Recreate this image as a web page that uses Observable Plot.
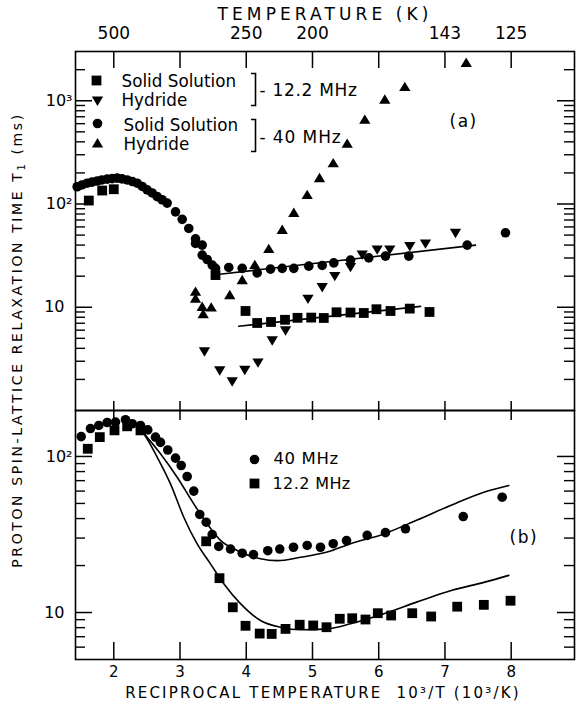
<!DOCTYPE html>
<html><head><meta charset="utf-8">
<script src="https://cdn.jsdelivr.net/npm/d3@7"></script>
<script src="https://cdn.jsdelivr.net/npm/@observablehq/plot@0.6"></script>
<style>
body{margin:0;background:#fff;}
#wrap{position:relative;width:576px;height:704px;font-family:"DejaVu Sans",sans-serif;color:#000;overflow:hidden;}
.abs{position:absolute;white-space:nowrap;}
#top,#bot{position:absolute;left:0;}
#top{top:0;} #bot{top:410px;}
</style></head><body><div id="wrap"><div id="top"></div><div id="bot"></div>
<div class="abs" id="ylab" style="left:18px;top:340px;transform:translate(-50%,-50%) rotate(-90deg);font-size:14px;letter-spacing:2.6px;">PROTON SPIN-LATTICE RELAXATION TIME T<sub style="font-size:10px">1</sub> (ms)</div>
</div>
<script>
// ---------- DATA (x = 10^3/T, value = T1 in ms) ----------
// panel (a)
const topSS40 = [[1.447,147],[1.52,153],[1.598,159],[1.67,163],[1.749,167],[1.82,171],[1.90,174],[1.975,176],[2.051,178],[2.125,175],[2.202,171],[2.28,165],[2.353,159],[2.43,148],[2.504,137],[2.58,128],[2.655,118],[2.73,110],[2.806,102],[2.932,84],[3.033,71],[3.132,58],[3.234,46],[3.234,41.5],[3.335,40],[3.335,32],[3.41,29],[3.486,25.6],[3.536,23.8],[3.736,24.3],[3.939,23.8],[4.165,21.5],[4.366,23.4],[4.543,23.8],[4.718,23.8],[4.944,25],[5.147,25.4],[5.322,26.9],[5.574,28.6],[5.85,30.1],[6.102,31.3],[6.454,31.3],[7.336,40],[7.914,52.6]];
const topSS12 = [[1.623,108],[1.825,135],[2.0,139],[3.536,20.5],[3.989,9.2],[4.165,7.04],[4.374,7.2],[4.585,7.56],[4.774,7.9],[4.981,7.94],[5.171,7.87],[5.363,8.94],[5.574,8.89],[5.775,8.8],[5.966,9.57],[6.178,9.2],[6.469,9.7],[6.767,9.0]];
const topHy12 = [[3.369,3.74],[3.600,2.45],[3.788,1.92],[3.978,2.48],[4.177,2.92],[4.392,4.78],[4.593,5.98],[4.932,12.1],[5.147,15.7],[5.337,20.1],[5.574,24.6],[5.751,32.5],[5.977,36.3],[6.167,36.3],[6.469,39.1],[6.706,41.5],[7.159,52.6]];
const topHy40 = [[3.234,14.1],[3.234,12.1],[3.335,10.07],[3.350,8.55],[3.471,9.93],[3.751,13.1],[3.939,18.3],[4.129,25.6],[4.340,36.6],[4.543,56],[4.718,81.8],[4.920,122],[5.106,178],[5.313,248],[5.524,383],[5.790,654],[6.092,1023],[6.394,1358],[7.321,2323]];
const topFit40 = [[3.60,20.9],[7.461,40.0]];
const topFit12 = [[3.887,6.54],[6.631,10.2]];
// panel (b)
const botSS40 = [[1.508,134],[1.648,151],[1.774,158],[1.90,165],[2.026,166],[2.177,172],[2.278,162],[2.403,158],[2.513,148],[2.630,133],[2.705,123],[2.815,110],[2.932,97.5],[3.018,87.5],[3.108,74.4],[3.208,60],[3.298,42.5],[3.395,37.9],[3.486,31.6],[3.585,26.5],[3.762,25.5],[3.939,24],[4.109,23.5],[4.325,24.9],[4.506,25.5],[4.713,26.2],[4.920,26.9],[5.121,26.2],[5.313,27.6],[5.514,28.9],[5.826,31.2],[6.102,32.5],[6.404,34.4],[7.276,41.2],[7.864,54.8]];
const botSS12 = [[1.607,112],[1.789,133],[2.011,147],[2.202,156],[2.403,147],[3.395,28.6],[3.596,16.6],[3.797,10.8],[3.989,8.22],[4.203,7.33],[4.384,7.29],[4.593,7.85],[4.807,8.35],[5.011,8.26],[5.212,8.05],[5.412,9.12],[5.600,9.19],[5.800,9.02],[5.986,9.90],[6.188,9.57],[6.506,9.90],[6.792,9.43],[7.185,10.9],[7.587,11.2],[7.99,11.9]];
const botCurve40 = [[2.15,176],[2.3,163],[2.453,140],[2.705,104],[2.957,73.6],[3.208,49.7],[3.410,37],[3.611,29],[3.863,25],[4.215,22.1],[4.467,21.5],[4.819,22.6],[5.222,24.4],[5.574,27.6],[6.077,31.9],[6.581,39.2],[7.084,48.5],[7.587,59],[7.964,65.2]];
const botCurve12 = [[2.15,176],[2.3,163],[2.453,140],[2.655,99],[2.856,66.8],[3.057,40.8],[3.259,27.5],[3.460,20.5],[3.661,15.3],[3.913,11.4],[4.215,8.89],[4.517,8.05],[4.819,7.75],[5.222,7.86],[5.574,8.47],[6.077,9.82],[6.581,11.7],[7.084,13.8],[7.587,15.6],[7.964,17.3]];
// axes
const xTickVals = [2,3,4,5,6,7,8];
const tempTickX = [2,4,5,7,8];
const tempTickLabels = ["500","250","200","143","125"];
const topYTicks = [10,100,1000];
const topYLabels = ["10\u2002","10²","10³"];
const botYTicks = [10,100];
const botYLabels = ["10\u2002","10²"];
const xDomain = [1.422, 8.956];
const topYDomain = [1, 3000];
const botYDomain = [5, 197];
const topTitle = "TEMPERATURE (K)";
const botTitle = "RECIPROCAL TEMPERATURE  10³/T (10³/K)";

// ---------- layout ----------
const W = 576, ML = 75, MR = 2, innerW = W - ML - MR;
const topH = 410, topMT = 51, topInnerH = topH - topMT;
const botH = 294, botMB = 45, botInnerH = botH - botMB;
const FONT = '"DejaVu Sans", sans-serif';
const spacing = new Map([[topTitle, 4.1], [botTitle, 2.2], ["- 12.2 MHz", 0.7], ["- 40 MHz", 0.9], ["40 MHz", 0.6], ["12.2 MHz", 0.4], ["(a)", 1.5], ["(b)", 1.5]]);

const minorOf = (dom) => [1,10,100,1000].flatMap(b => d3.range(2,10).map(k => k*b)).filter(v => v > dom[0] && v < dom[1]);

const S = (f) => ({draw(c, s){ const r = Math.sqrt(s/Math.PI); f(c, r); }});
const sym = {
  circle: S((c,r)=>{ c.moveTo(r,0); c.arc(0,0,r,0,2*Math.PI); }),
  square: S((c,r)=>{ c.rect(-r,-r,2*r,2*r); }),
  triUp: S((c,r)=>{ c.moveTo(0,-1.15*r); c.lineTo(1.2*r,0.85*r); c.lineTo(-1.2*r,0.85*r); c.closePath(); }),
  triDown: S((c,r)=>{ c.moveTo(0,1.15*r); c.lineTo(1.2*r,-0.85*r); c.lineTo(-1.2*r,-0.85*r); c.closePath(); }),
  bracket: S((c,r)=>{ c.moveTo(-0.28*r,-r); c.lineTo(0,-r); c.lineTo(0,r); c.lineTo(-0.28*r,r); })
};
const R = {circle: 4.8, square: 4.9, triUp: 4.7, triDown: 4.7};
const X = d => d[0], Y = d => d[1];

function pts(data, s){ return Plot.dot(data, {x: X, y: Y, symbol: sym[s], r: R[s], fill: "black"}); }
function frameTicks(innerH, yMajor, yMinor, topLen, botLen){
  return [
    Plot.frame({stroke: "black", strokeWidth: 1.6}),
    Plot.tickY(yMajor, {y: d=>d, insetRight: innerW-17, strokeWidth: 1.5}),
    Plot.tickY(yMajor, {y: d=>d, insetLeft: innerW-17, strokeWidth: 1.5}),
    Plot.tickY(yMinor, {y: d=>d, insetRight: innerW-10, strokeWidth: 1.4}),
    Plot.tickY(yMinor, {y: d=>d, insetLeft: innerW-10, strokeWidth: 1.4}),
    Plot.tickX(xTickVals, {x: d=>d, insetBottom: innerH-topLen, strokeWidth: 1.5}),
    Plot.tickX(xTickVals, {x: d=>d, insetTop: innerH-botLen, strokeWidth: 1.5})
  ];
}
function label(txt, anchor, dx, dy, opts={}){
  return Plot.text([txt], {frameAnchor: anchor, dx, dy, text: d=>d, textAnchor: "start", lineAnchor: "middle", fontSize: 16.8, ...opts});
}
function legendDot(s, dx, dy){ return Plot.dot([0], {frameAnchor: "top-left", dx, dy, symbol: sym[s], r: R[s], fill: "black"}); }
function applySpacing(svg){
  svg.querySelectorAll("text").forEach(t => { const s = spacing.get(t.textContent); if (s != null) t.setAttribute("letter-spacing", s); });
  return svg;
}

const topPlot = Plot.plot({
  width: W, height: topH, marginTop: topMT, marginBottom: 0, marginLeft: ML, marginRight: MR,
  x: {domain: xDomain},
  y: {type: "log", domain: topYDomain},
  style: {fontFamily: FONT, fontSize: "15px", background: "transparent", color: "black", overflow: "visible"},
  marks: [
    ...frameTicks(topInnerH, topYTicks, minorOf(topYDomain), 17, 9),
    Plot.axisX({anchor: "top", ticks: tempTickX, tickFormat: d => tempTickLabels[tempTickX.indexOf(d)], tickSize: 0, tickPadding: 13, label: null, fontSize: 17}),
    Plot.axisY({anchor: "left", ticks: topYTicks, tickFormat: d => topYLabels[topYTicks.indexOf(d)], tickSize: 0, tickPadding: 3, label: null, fontSize: 16}),
    Plot.text([topTitle], {frameAnchor: "top", dx: 0, dy: -37, text: d=>d, lineAnchor: "middle", fontSize: 17}),
    Plot.line(topFit40, {x: X, y: Y, strokeWidth: 1.6}),
    Plot.line(topFit12, {x: X, y: Y, strokeWidth: 1.6}),
    pts(topSS40, "circle"), pts(topSS12, "square"), pts(topHy12, "triDown"), pts(topHy40, "triUp"),
    // legend
    legendDot("square", 21, 29), legendDot("triDown", 22, 49), legendDot("circle", 22, 72), legendDot("triUp", 22, 92),
    label("Solid Solution", "top-left", 46, 30), label("Hydride", "top-left", 46, 49),
    label("Solid Solution", "top-left", 48, 74), label("Hydride", "top-left", 48, 93),
    Plot.dot([0], {frameAnchor: "top-left", dx: 180, dy: 38, symbol: sym.bracket, r: 16, fill: "none", stroke: "black", strokeWidth: 1.6}),
    Plot.dot([0], {frameAnchor: "top-left", dx: 180, dy: 84, symbol: sym.bracket, r: 16, fill: "none", stroke: "black", strokeWidth: 1.6}),
    label("- 12.2 MHz", "top-left", 184, 39, {fontSize: 17}),
    label("- 40 MHz", "top-left", 184, 86, {fontSize: 17}),
    label("(a)", "top-left", 374, 70, {fontSize: 17})
  ]
});
document.getElementById("top").append(applySpacing(topPlot));

const botPlot = Plot.plot({
  width: W, height: botH, marginTop: 0, marginBottom: botMB, marginLeft: ML, marginRight: MR,
  x: {domain: xDomain},
  y: {type: "log", domain: botYDomain},
  style: {fontFamily: FONT, fontSize: "15px", background: "transparent", color: "black", overflow: "visible"},
  marks: [
    ...frameTicks(botInnerH, botYTicks, minorOf(botYDomain), 10, 17),
    Plot.axisX({anchor: "bottom", ticks: xTickVals, tickFormat: d => String(d), tickSize: 0, tickPadding: 7, label: null, fontSize: 15}),
    Plot.axisY({anchor: "left", ticks: botYTicks, tickFormat: d => botYLabels[botYTicks.indexOf(d)], tickSize: 0, tickPadding: 3, label: null, fontSize: 16}),
    Plot.text([botTitle], {frameAnchor: "bottom", dx: -2, dy: 34, text: d=>d, lineAnchor: "middle", fontSize: 15}),
    Plot.line(botCurve40, {x: X, y: Y, curve: "monotone-x", strokeWidth: 1.6}),
    Plot.line(botCurve12, {x: X, y: Y, curve: "monotone-x", strokeWidth: 1.6}),
    pts(botSS40, "circle"), pts(botSS12, "square"),
    legendDot("circle", 179, 49), legendDot("square", 179, 73),
    label("40 MHz", "top-left", 198, 48, {fontSize: 16.5}),
    label("12.2 MHz", "top-left", 197, 73, {fontSize: 16}),
    label("(b)", "top-left", 434, 127, {fontSize: 17})
  ]
});
document.getElementById("bot").append(applySpacing(botPlot));
</script></body></html>
